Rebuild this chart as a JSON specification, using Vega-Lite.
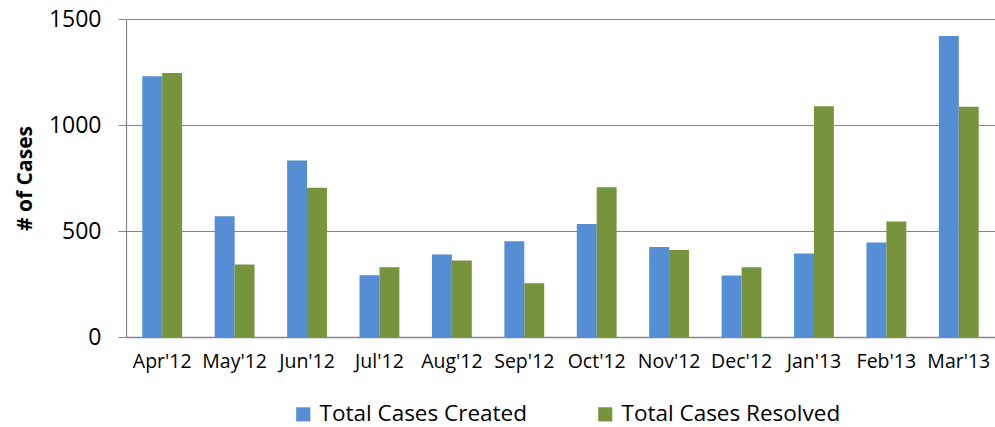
{
  "$schema": "https://vega.github.io/schema/vega-lite/v6.json",
  "width": 869,
  "height": 318,
  "autosize": "none",
  "padding": {"left": 126, "top": 19, "right": 0, "bottom": 90},
  "background": "white",
  "config": {
    "view": {"stroke": null},
    "font": "Open Sans",
    "axis": {"labelColor": "#000", "titleColor": "#000", "domainColor": "#868686", "tickColor": "#868686", "gridColor": "#868686"}
  },
  "data": {
    "values": [
      {"month": "Apr'12", "series": "Total Cases Created", "value": 1230},
      {"month": "Apr'12", "series": "Total Cases Resolved", "value": 1245},
      {"month": "May'12", "series": "Total Cases Created", "value": 569},
      {"month": "May'12", "series": "Total Cases Resolved", "value": 342},
      {"month": "Jun'12", "series": "Total Cases Created", "value": 833},
      {"month": "Jun'12", "series": "Total Cases Resolved", "value": 704},
      {"month": "Jul'12", "series": "Total Cases Created", "value": 291},
      {"month": "Jul'12", "series": "Total Cases Resolved", "value": 329},
      {"month": "Aug'12", "series": "Total Cases Created", "value": 389},
      {"month": "Aug'12", "series": "Total Cases Resolved", "value": 361},
      {"month": "Sep'12", "series": "Total Cases Created", "value": 452},
      {"month": "Sep'12", "series": "Total Cases Resolved", "value": 254},
      {"month": "Oct'12", "series": "Total Cases Created", "value": 533},
      {"month": "Oct'12", "series": "Total Cases Resolved", "value": 706},
      {"month": "Nov'12", "series": "Total Cases Created", "value": 424},
      {"month": "Nov'12", "series": "Total Cases Resolved", "value": 410},
      {"month": "Dec'12", "series": "Total Cases Created", "value": 290},
      {"month": "Dec'12", "series": "Total Cases Resolved", "value": 329},
      {"month": "Jan'13", "series": "Total Cases Created", "value": 394},
      {"month": "Jan'13", "series": "Total Cases Resolved", "value": 1089},
      {"month": "Feb'13", "series": "Total Cases Created", "value": 446},
      {"month": "Feb'13", "series": "Total Cases Resolved", "value": 545},
      {"month": "Mar'13", "series": "Total Cases Created", "value": 1420},
      {"month": "Mar'13", "series": "Total Cases Resolved", "value": 1086}
    ]
  },
  "mark": {"type": "bar"},
  "encoding": {
    "x": {
      "field": "month",
      "type": "nominal",
      "sort": null,
      "scale": {"paddingInner": 0.45, "paddingOuter": 0.225},
      "axis": {"title": null, "labelAngle": 0, "ticks": false, "labelFontSize": 19.5, "labelPadding": 15, "domainWidth": 1.5, "grid": false}
    },
    "xOffset": {"field": "series", "type": "nominal", "scale": {"paddingInner": 0}},
    "y": {
      "field": "value",
      "type": "quantitative",
      "scale": {"domain": [0, 1500]},
      "axis": {"title": "# of Cases", "titleFontSize": 21, "titleFontWeight": "bold", "titlePadding": 13, "values": [0, 500, 1000, 1500], "format": "d", "labelFontSize": 23, "labelPadding": 17, "tickSize": 8, "grid": true, "gridWidth": 1.2, "domainWidth": 1.2}
    },
    "color": {
      "field": "series",
      "type": "nominal",
      "scale": {"domain": ["Total Cases Created", "Total Cases Resolved"], "range": ["#558ED5", "#77933C"]},
      "legend": {"title": null, "orient": "none", "legendX": 166, "legendY": 384, "direction": "horizontal", "symbolType": "square", "symbolSize": 200, "symbolStrokeWidth": 0, "labelFontSize": 22.5, "labelColor": "#000", "labelOffset": 5, "columnPadding": 67, "labelLimit": 400}
    }
  }
}
